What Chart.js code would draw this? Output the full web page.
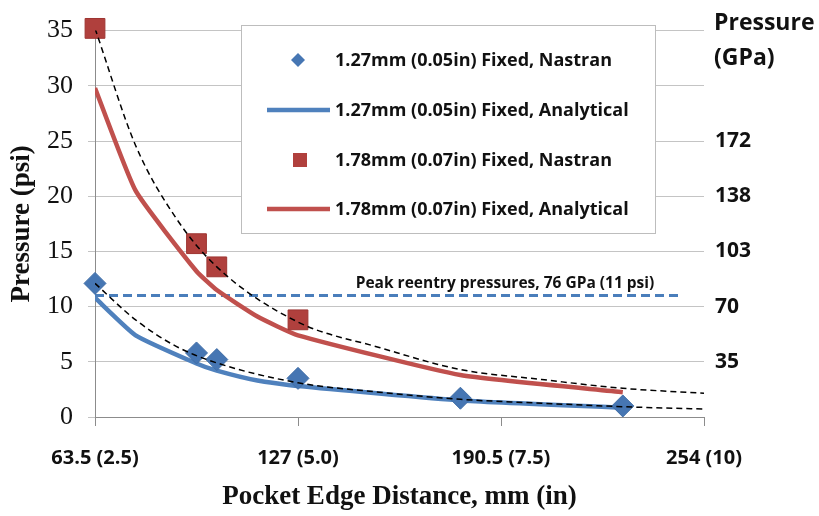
<!DOCTYPE html>
<html>
<head>
<meta charset="utf-8">
<script src="https://cdn.jsdelivr.net/npm/chart.js@4.4.1/dist/chart.umd.min.js"></script>
<style>
  html, body { margin: 0; padding: 0; background: #fff; }
  #wrap { width: 819px; height: 516px; }
</style>
</head>
<body>
<div id="wrap"><canvas id="chart" width="819" height="516"></canvas></div>
<script>
// x values in inches (tick labels show mm (in))
const X_TICKS  = [2.5, 5, 7.5, 10];
const X_LABELS = ['63.5 (2.5)', '127 (5.0)', '190.5 (7.5)', '254 (10)'];

// right axis: GPa labels at psi positions
const GPA_AT_PSI = [5, 10, 15, 20, 25];
const GPA_LABELS = ['35', '70', '103', '138', '172'];

// Nastran results (psi)
const NASTRAN_X_127 = [2.5, 3.75, 4.0, 5.0, 7.0, 9.0];
const NASTRAN_127   = [12.1, 5.8, 5.2, 3.5, 1.7, 1.0];
const NASTRAN_X_178 = [2.5, 3.75, 4.0, 5.0];
const NASTRAN_178   = [35.2, 15.7, 13.6, 8.8];

// analytical curves (psi)
const ANALYTIC_X   = [2.5, 3.0, 3.75, 4.0, 4.5, 5.0, 7.0, 9.0];
const ANALYTIC_127 = [10.8, 7.4, 4.85, 4.2, 3.3, 2.8, 1.5, 0.85];
const ANALYTIC_178 = [29.8, 20.5, 13.2, 11.5, 9.1, 7.4, 3.8, 2.25];

// dashed fit curves (psi)
const TREND_X   = [2.5, 3, 3.5, 4, 5, 6, 7, 8, 9, 10];
const TREND_127 = [12.1, 8.8, 6.4, 4.9, 3.1, 2.25, 1.6, 1.25, 0.93, 0.72];
const TREND_178 = [35.2, 24.6, 18.0, 13.6, 8.6, 6.3, 4.3, 3.4, 2.6, 2.15];

// peak reentry reference line
const PEAK_X   = [2.5, 9.73];
const PEAK_PSI = 11;
const PEAK_TEXT = 'Peak reentry pressures, 76 GPa (11 psi)';

const BLUE      = '#4F81BD';
const BLUE_MARK = '#4676B3';
const RED       = '#C0504D';
const RED_MARK  = '#B0403D';

const SANS  = '"Open Sans", "Noto Sans", sans-serif';
const SERIF = '"Liberation Serif", "DejaVu Serif", serif';

const pts = (xs, ys) => xs.map((x, i) => ({ x, y: ys[i] }));

const LEGEND = [
  { text: '1.27mm (0.05in) Fixed, Nastran',    kind: 'diamond' },
  { text: '1.27mm (0.05in) Fixed, Analytical', kind: 'line', color: BLUE },
  { text: '1.78mm (0.07in) Fixed, Nastran',    kind: 'square' },
  { text: '1.78mm (0.07in) Fixed, Analytical', kind: 'line', color: RED }
];

const extras = {
  id: 'extras',
  afterDraw(chart) {
    const ctx = chart.ctx;
    const ys = chart.scales.y;
    ctx.save();

    // peak label
    ctx.font = 'bold 15.5px ' + SANS;
    ctx.fillStyle = '#111';
    ctx.textAlign = 'center';
    ctx.textBaseline = 'alphabetic';
    ctx.fillText(PEAK_TEXT, 505, ys.getPixelForValue(PEAK_PSI) - 8);

    // legend box
    const bx = 241.5, by = 25.5, bw = 414, bh = 208;
    ctx.fillStyle = '#fff';
    ctx.fillRect(bx, by, bw, bh);
    ctx.strokeStyle = '#bdbdbd';
    ctx.lineWidth = 1;
    ctx.strokeRect(bx, by, bw, bh);

    const rows = [60, 110, 160, 209];
    ctx.font = 'bold 18px ' + SANS;
    ctx.textAlign = 'left';
    ctx.textBaseline = 'middle';
    LEGEND.forEach((item, i) => {
      const y = rows[i];
      if (item.kind === 'diamond') {
        ctx.fillStyle = BLUE_MARK;
        ctx.beginPath();
        ctx.moveTo(298, y - 7); ctx.lineTo(305, y); ctx.lineTo(298, y + 7); ctx.lineTo(291, y);
        ctx.closePath(); ctx.fill();
      } else if (item.kind === 'square') {
        ctx.fillStyle = RED_MARK;
        ctx.fillRect(293, y - 7, 14, 14);
      } else {
        ctx.strokeStyle = item.color;
        ctx.lineWidth = 4.5;
        ctx.beginPath(); ctx.moveTo(267, y); ctx.lineTo(330, y); ctx.stroke();
      }
      ctx.fillStyle = '#111';
      ctx.fillText(item.text, 335, y + 1);
    });

    // right axis title
    ctx.font = 'bold 23px ' + SANS;
    ctx.textBaseline = 'alphabetic';
    ctx.fillStyle = '#111';
    ctx.fillText('Pressure', 714, 30);
    ctx.fillText('(GPa)', 714, 65);
    ctx.restore();
  }
};

new Chart(document.getElementById('chart'), {
  type: 'line',
  data: {
    datasets: [
      {
        label: '1.27 trend', data: pts(TREND_X, TREND_127), order: 0,
        borderColor: '#000', borderWidth: 1.5, borderDash: [6, 4],
        pointRadius: 0, cubicInterpolationMode: 'monotone', fill: false
      },
      {
        label: '1.78 trend', data: pts(TREND_X, TREND_178), order: 0,
        borderColor: '#000', borderWidth: 1.5, borderDash: [6, 4],
        pointRadius: 0, cubicInterpolationMode: 'monotone', fill: false
      },
      {
        label: '1.27mm (0.05in) Fixed, Nastran', data: pts(NASTRAN_X_127, NASTRAN_127), order: 1,
        showLine: false, pointStyle: 'rectRot', pointRadius: 11,
        pointBackgroundColor: BLUE_MARK, pointBorderColor: '#3F6DA6', pointBorderWidth: 1, clip: false
      },
      {
        label: '1.78mm (0.07in) Fixed, Nastran', data: pts(NASTRAN_X_178, NASTRAN_178), order: 1,
        showLine: false, pointStyle: 'rect', pointRadius: 14,
        pointBackgroundColor: RED_MARK, pointBorderColor: '#9E3532', pointBorderWidth: 1, clip: false
      },
      {
        label: '1.27mm (0.05in) Fixed, Analytical', data: pts(ANALYTIC_X, ANALYTIC_127), order: 2,
        borderColor: BLUE, borderWidth: 4.5, pointRadius: 0, tension: 0.15, fill: false
      },
      {
        label: '1.78mm (0.07in) Fixed, Analytical', data: pts(ANALYTIC_X, ANALYTIC_178), order: 2,
        borderColor: RED, borderWidth: 4.5, pointRadius: 0, tension: 0.15, fill: false
      },
      {
        label: 'Peak reentry', data: PEAK_X.map(x => ({ x, y: PEAK_PSI })), order: 3,
        borderColor: '#4A7EBB', borderWidth: 3, borderDash: [9, 5], pointRadius: 0, fill: false
      }
    ]
  },
  options: {
    responsive: false,
    animation: false,
    layout: { padding: { top: 27, left: 0, right: 0, bottom: 0 } },
    plugins: { legend: { display: false }, tooltip: { enabled: false } },
    scales: {
      x: {
        type: 'linear', min: 2.5, max: 10,
        afterBuildTicks: s => { s.ticks = X_TICKS.map(v => ({ value: v })); },
        afterFit: s => { s.height = 99; },
        grid: { drawOnChartArea: false, drawTicks: true, tickLength: 9, color: '#8c8c8c' },
        border: { color: '#8c8c8c', width: 1 },
        ticks: {
          padding: 20, maxRotation: 0, autoSkip: false,
          color: '#111', font: { family: SANS, size: 20, weight: 'bold' },
          callback: v => X_LABELS[X_TICKS.indexOf(v)] ?? ''
        },
        title: {
          display: true, text: 'Pocket Edge Distance, mm (in)', color: '#111',
          font: { family: SERIF, size: 27, weight: 'bold' }, padding: { top: 0, bottom: 3 }
        }
      },
      y: {
        position: 'left', min: 0, max: 35,
        afterFit: s => { s.width = 95; },
        grid: { color: '#c4c4c4', tickLength: 7, drawTicks: true },
        border: { color: '#8c8c8c', width: 1 },
        ticks: {
          stepSize: 5, padding: 15, color: '#111',
          font: { family: SERIF, size: 26 }
        },
        title: {
          display: true, text: 'Pressure (psi)', color: '#111',
          font: { family: SERIF, size: 27, weight: 'bold' }, padding: { top: 6, bottom: 0 }
        }
      },
      y2: {
        position: 'right', min: 0, max: 35,
        afterBuildTicks: s => { s.ticks = GPA_AT_PSI.map(v => ({ value: v })); },
        afterFit: s => { s.width = 115; },
        grid: { display: false },
        border: { display: false },
        ticks: {
          padding: 3, color: '#111', font: { family: SANS, size: 21, weight: 'bold' },
          callback: v => GPA_LABELS[GPA_AT_PSI.indexOf(v)] ?? ''
        }
      }
    }
  },
  plugins: [extras]
});
</script>
</body>
</html>
